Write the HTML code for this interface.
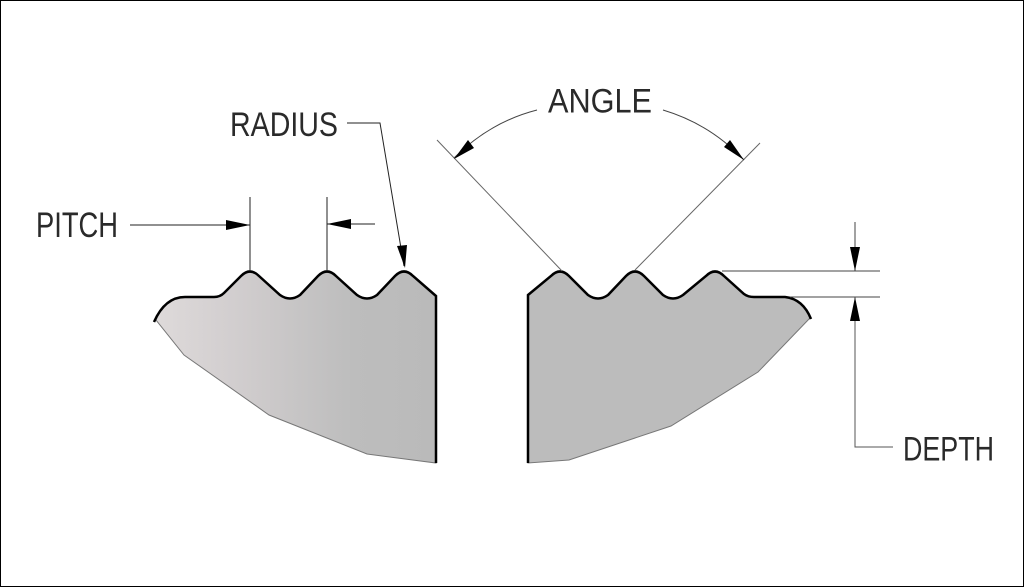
<!DOCTYPE html>
<html><head><style>
html,body{margin:0;padding:0;background:#fff;}
svg{display:block;}
text{font-family:"Liberation Sans",sans-serif;fill:#2a2a2a;}
</style></head><body>
<svg width="1024" height="587" viewBox="0 0 1024 587" xmlns="http://www.w3.org/2000/svg">
<defs>
<linearGradient id="gl" x1="0" x2="1" y1="0" y2="0">
<stop offset="0" stop-color="#dedada"/>
<stop offset="0.25" stop-color="#d3cfd0"/>
<stop offset="0.7" stop-color="#bdbdbd"/>
<stop offset="1" stop-color="#bababa"/>
</linearGradient>
</defs>
<rect x="0.5" y="0.5" width="1023" height="586" fill="#fff" stroke="#000" stroke-width="1"/>

<!-- left piece -->
<path d="M156,320 Q165,297 185,297 L214,297 Q220,297 224,293 L241,276 Q250,267 259,276 L280,295 Q290,302 300,295 L318,276 Q327,267 336,276 L357,295 Q367,302 377,295 L395,276 Q404,267 413,276 L436,296 L436,463 L367,454 L269,415 L184,355 Z" fill="url(#gl)" stroke="#777" stroke-width="1"/>
<path d="M154,322 Q165,297 185,297 L214,297 Q220,297 224,293 L241,276 Q250,267 259,276 L280,295 Q290,302 300,295 L318,276 Q327,267 336,276 L357,295 Q367,302 377,295 L395,276 Q404,267 413,276 L436,296 L436,463" fill="none" stroke="#000" stroke-width="2.5"/>

<!-- right piece -->
<path d="M528,463 L528,295 L551,276 Q560,267 569,276 L588,295 Q598,302 608,295 L626,276 Q635,267 644,276 L663,295 Q673,302 683,295 L706,276 Q715,267 724,276 L744,294 Q748,297 754,297 L785,297 Q803,299 810,318 L758,372 L671,426 L569,460 Z" fill="#bcbcbc" stroke="#777" stroke-width="1"/>
<path d="M528,463 L528,295 L551,276 Q560,267 569,276 L588,295 Q598,302 608,295 L626,276 Q635,267 644,276 L663,295 Q673,302 683,295 L706,276 Q715,267 724,276 L744,294 Q748,297 754,297 L785,297 Q803,299 811,319" fill="none" stroke="#000" stroke-width="2.5"/>

<g stroke="#222" stroke-width="1" fill="none">
<line x1="130" y1="225" x2="250" y2="225"/>
<line x1="250" y1="197" x2="250" y2="271"/>
<line x1="327" y1="197" x2="327" y2="271"/>
<line x1="327" y1="224" x2="375" y2="224"/>
<polyline points="347,123 380,123 404,266"/>
<line x1="437" y1="140" x2="562" y2="271" stroke="#666"/>
<line x1="760" y1="143" x2="635" y2="270" stroke="#666"/>
<path d="M454,158 Q490,122 537,110" stroke="#444"/>
<path d="M663,110 Q710,124 744,160" stroke="#444"/>
<line x1="722" y1="271" x2="880" y2="271" stroke="#444"/>
<line x1="790" y1="297" x2="880" y2="297" stroke="#444"/>
<line x1="855" y1="222" x2="855" y2="271" stroke="#444"/>
<polyline points="855,297 855,447 893,447" stroke="#555"/>
</g>
<g fill="#000">
<polygon points="250,225 226,220 226,230"/>
<polygon points="327,224 351,219 351,229"/>
<polygon points="405,268 397,246 407,245"/>
<polygon points="454,159 468,140 474,148"/>
<polygon points="744,160 724,147 730,140"/>
<polygon points="855,271 850,247 860,247"/>
<polygon points="855,297 850,321 860,321"/>
</g>

<text x="36" y="237" font-size="30" textLength="82" lengthAdjust="spacingAndGlyphs" transform="translate(0,-38) scale(1,1.16)">PITCH</text>
<text x="230" y="136" font-size="30" textLength="108" lengthAdjust="spacingAndGlyphs" transform="translate(0,-21) scale(1,1.155)">RADIUS</text>
<text x="548" y="112" font-size="30" textLength="104" lengthAdjust="spacingAndGlyphs" transform="translate(0,-17) scale(1,1.155)">ANGLE</text>
<text x="903" y="460" font-size="30" textLength="91" lengthAdjust="spacingAndGlyphs" transform="translate(0,-71) scale(1,1.155)">DEPTH</text>
</svg>
</body></html>
